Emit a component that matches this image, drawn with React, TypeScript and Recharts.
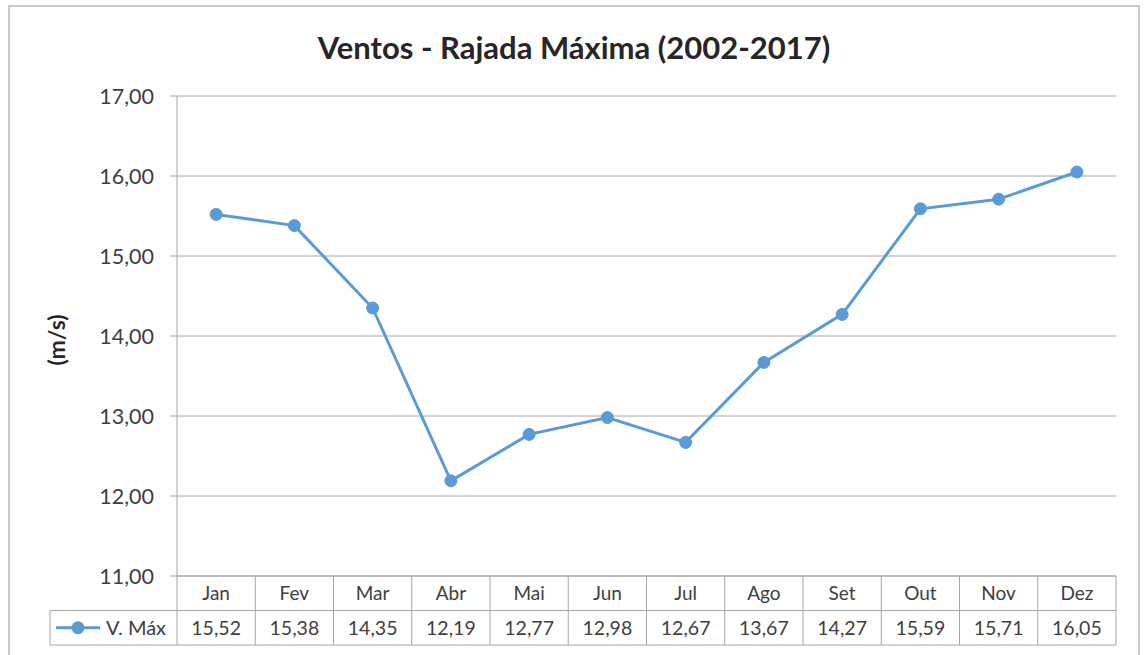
import React from 'react';
import { LineChart, Line, XAxis, YAxis, CartesianGrid } from 'recharts';

const months = ['Jan', 'Fev', 'Mar', 'Abr', 'Mai', 'Jun', 'Jul', 'Ago', 'Set', 'Out', 'Nov', 'Dez'];
const vMax = [15.52, 15.38, 14.35, 12.19, 12.77, 12.98, 12.67, 13.67, 14.27, 15.59, 15.71, 16.05];
const yTicks = [11, 12, 13, 14, 15, 16, 17];
const seriesName = 'V. Máx';
const title = 'Ventos - Rajada Máxima (2002-2017)';
const yLabel = '(m/s)';

const data = months.map((m, i) => ({ month: m, vmax: vMax[i] }));

const W = 1148;
const H = 655;
const MARGIN = { top: 96, right: 32, bottom: 9, left: 57 };
const Y_AXIS_W = 120;
const X_AXIS_H = 70;
const PLOT_LEFT = MARGIN.left + Y_AXIS_W;
const PLOT_RIGHT = W - MARGIN.right;
const CELL_W = (PLOT_RIGHT - PLOT_LEFT) / months.length;
const TABLE_LEFT = 50;

const LINE_COLOR = '#5B9BD5';
const GRID = '#a6a6a6';
const TEXT = '#404040';
const FONT = 'Lato, "Open Sans", sans-serif';

const fmt = (v: number) => v.toFixed(2).replace('.', ',');

function TableTick(props: any) {
  const { x, y, payload, index } = props;
  const i = typeof index === 'number' ? index : months.indexOf(payload.value);
  const right = x + CELL_W / 2;
  const left = x - CELL_W / 2;
  const rowH = 34.5;
  return (
    <g>
      <text x={x} y={y + 24} textAnchor="middle" fontSize={19} fill={TEXT} fontFamily={FONT}>
        {payload.value}
      </text>
      <text x={x} y={y + 59} textAnchor="middle" fontSize={19.5} fill={TEXT} fontFamily={FONT}>
        {fmt(vMax[i])}
      </text>
      <line x1={right} y1={y} x2={right} y2={y + rowH * 2} stroke={GRID} strokeWidth={1} />
      {i === 0 && (
        <g>
          <line x1={left} y1={y} x2={left} y2={y + rowH * 2} stroke={GRID} strokeWidth={1} />
          <line x1={TABLE_LEFT} y1={y + rowH} x2={PLOT_RIGHT} y2={y + rowH} stroke={GRID} strokeWidth={1} />
          <line x1={TABLE_LEFT} y1={y + rowH * 2} x2={PLOT_RIGHT} y2={y + rowH * 2} stroke={GRID} strokeWidth={1} />
          <line x1={TABLE_LEFT} y1={y + rowH} x2={TABLE_LEFT} y2={y + rowH * 2} stroke={GRID} strokeWidth={1} />
          <line x1={TABLE_LEFT + 6} y1={y + rowH * 1.5} x2={TABLE_LEFT + 50} y2={y + rowH * 1.5} stroke={LINE_COLOR} strokeWidth={3} />
          <circle cx={TABLE_LEFT + 28} cy={y + rowH * 1.5} r={6.5} fill={LINE_COLOR} />
          <text x={TABLE_LEFT + 56} y={y + 59} textAnchor="start" fontSize={20} fill={TEXT} fontFamily={FONT}>
            {seriesName}
          </text>
        </g>
      )}
    </g>
  );
}

function YLabel(props: any) {
  const vb = props.viewBox || {};
  const cx = vb.x - 1;
  const cy = vb.y + vb.height / 2 + 4;
  return (
    <text
      x={cx}
      y={cy}
      transform={`rotate(-90 ${cx} ${cy})`}
      textAnchor="middle"
      dominantBaseline="central"
      fontSize={23}
      fontWeight="bold"
      fill="#262626"
      fontFamily={FONT}
    >
      {yLabel}
    </text>
  );
}

export default function App() {
  return (
    <div style={{ position: 'absolute', left: 0, top: 0, width: W, height: H, overflow: 'hidden', background: '#fff' }}>
      <div
        style={{
          position: 'absolute',
          left: 8,
          top: 5,
          width: 1132,
          height: 680,
          border: '2px solid #c8c8c8',
          boxSizing: 'border-box',
        }}
      />
      <div
        style={{
          position: 'absolute',
          left: 0,
          top: 27,
          width: W,
          textAlign: 'center',
          fontFamily: FONT,
          fontWeight: 'bold',
          fontSize: 31,
          color: '#262626',
          lineHeight: '40px',
        }}
      >
        {title}
      </div>
      <div style={{ position: 'absolute', left: 0, top: 0 }}>
        <LineChart width={W} height={H} data={data} margin={MARGIN}>
          <CartesianGrid vertical={false} stroke={GRID} strokeWidth={1} />
          <XAxis
            dataKey="month"
            height={X_AXIS_H}
            interval={0}
            padding={{ left: CELL_W / 2, right: CELL_W / 2 }}
            axisLine={{ stroke: GRID }}
            tickLine={false}
            tickSize={0}
            tickMargin={0}
            tick={<TableTick />}
          />
          <YAxis
            width={Y_AXIS_W}
            domain={[11, 17]}
            ticks={yTicks}
            interval={0}
            tickFormatter={fmt}
            axisLine={{ stroke: GRID }}
            tickLine={{ stroke: GRID }}
            tickSize={7}
            tickMargin={16}
            tick={{ fontSize: 21.5, fill: TEXT, fontFamily: FONT }}
            label={<YLabel />}
          />
          <Line
            type="linear"
            dataKey="vmax"
            name={seriesName}
            stroke={LINE_COLOR}
            strokeWidth={3}
            dot={{ r: 6, fill: LINE_COLOR, stroke: LINE_COLOR, strokeWidth: 1 }}
            activeDot={false}
            isAnimationActive={false}
          />
        </LineChart>
      </div>
    </div>
  );
}
